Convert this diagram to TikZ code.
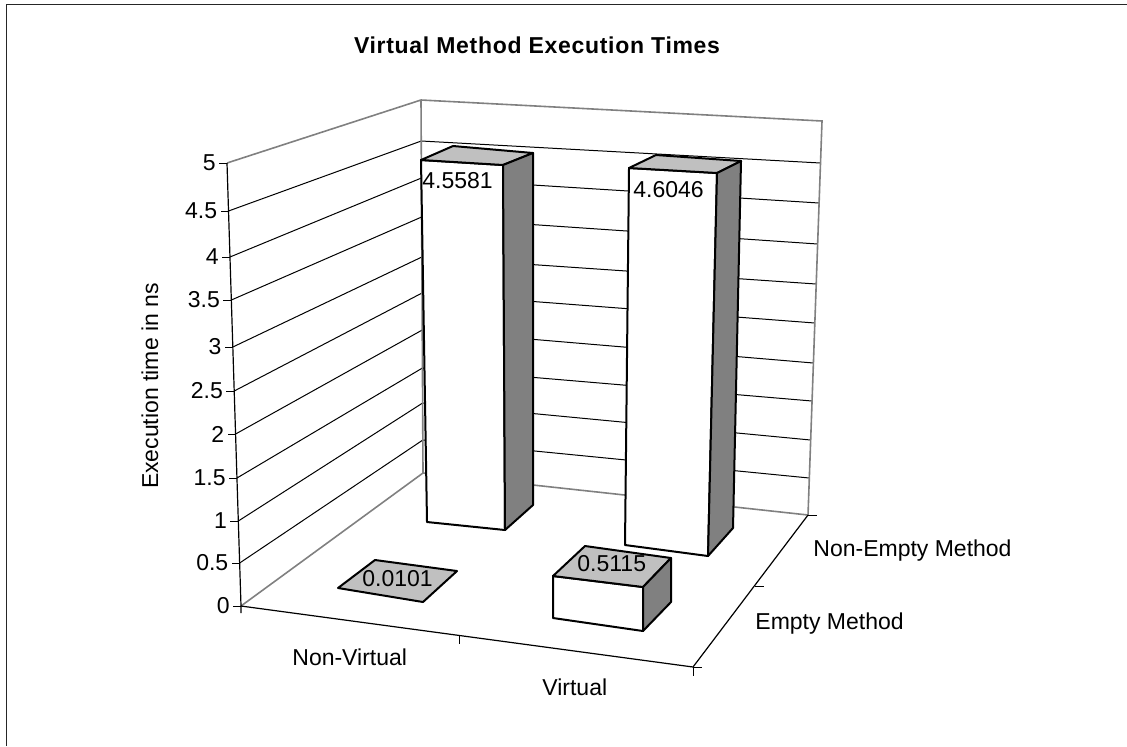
\documentclass[tikz,border=0pt]{standalone}
\usepackage{fontspec}
\setmainfont{Liberation Sans}
\definecolor{faceTop}{HTML}{C0C0C0}
\definecolor{faceSide}{HTML}{808080}
\definecolor{wallEdge}{HTML}{808080}
\begin{document}
\begin{tikzpicture}[x=0.5pt,y=-0.5pt,
  gridline/.style={black,line width=0.5pt},
  walledge/.style={wallEdge,line width=0.8pt},
  axisline/.style={black,line width=0.6pt},
  barfront/.style={draw=black,fill=white,line width=1pt,line join=round},
  bartop/.style={draw=black,fill=faceTop,line width=1pt,line join=round},
  barside/.style={draw=black,fill=faceSide,line width=1pt,line join=round},
  lbl/.style={inner sep=0pt,font=\fontsize{11.5pt}{13pt}\selectfont},
  ticklbl/.style={lbl,anchor=east},
  charttitle/.style={inner sep=0pt,font=\fontsize{11.5pt}{13pt}\selectfont\bfseries\addfontfeature{LetterSpace=3}}]
\useasboundingbox (0,0) rectangle (1127,746);

% outer frame (left and top edges)
\draw[black!85,line width=0.8pt] (6.5,746) -- (6.5,4.5) -- (1127,4.5);

% title
\node[charttitle] (title) at (537,45) {Virtual Method Execution Times};

% inner grid lines on the side wall and the back wall, with value ticks
\foreach \v/\fy/\by/\ry [count=\i] in {0.5/563/440/478, 1/521/403/440, 1.5/478/368/401,
    2/434/330/363, 2.5/391/293/323, 3/347/257/284, 3.5/300/217/244,
    4/257/178/203, 4.5/211/141/163}{
  \pgfmathsetmacro\fx{241-(606-\fy)*14/443}
  \pgfmathsetmacro\bx{423-(473-\by)*2/373}
  \pgfmathsetmacro\rx{808+(515-\ry)*14/394}
  \draw[gridline] (\fx,\fy) -- (\bx,\by) -- (\rx,\ry);
  \draw[gridline] (\fx,\fy) -- (\fx-8,\fy);
  \node[ticklbl] (tick\i) at (\fx-11,\fy) {\v};
}

% wall outlines
\draw[walledge] (227,163) -- (421,100) -- (822,121) -- (808,515) -- (423,473) -- (241,606);
\draw[walledge] (421,100) -- (423,473);

% value axis
\draw[axisline] (227,163) -- (241,606) -- (241,613);
\draw[gridline] (227,163) -- (219,163);
\draw[gridline] (241,606) -- (233,606);
\node[ticklbl] (tick0) at (230,606) {0};
\node[ticklbl] (tick10) at (216,163) {5};

% category axis and series axis
\draw[axisline] (241,606) -- (693,667) -- (808,515);
\draw[gridline] (459,635) -- (459,644);
\draw[gridline] (693,667) -- (693,676);
\draw[gridline] (693,667) -- (702,667);
\draw[gridline] (755,586) -- (764,586);
\draw[gridline] (808,515) -- (817,515);

% axis titles and category labels
\node[lbl,rotate=90] (ytitle) at (150,386) {Execution time in ns};
\node[lbl,anchor=base west] (catA) at (292,665) {Non-Virtual};
\node[lbl,anchor=base west] (catB) at (542,695) {Virtual};
\node[lbl,anchor=base west] (serA) at (755,629) {Empty Method};
\node[lbl,anchor=base west] (serB) at (813,556) {Non-Empty Method};

% back row: non-empty method
\filldraw[barfront] (421,160) -- (503,165) -- (505,530) -- (427,522) -- cycle;
\filldraw[bartop]   (421,160) -- (453,146) -- (533,153) -- (503,165) -- cycle;
\filldraw[barside]  (503,165) -- (533,153) -- (533,505) -- (505,530) -- cycle;
\node[lbl,anchor=base west] (valA) at (422,188) {4.5581};

\filldraw[barfront] (629,168) -- (717,173) -- (708,556) -- (625,545) -- cycle;
\filldraw[bartop]   (629,168) -- (656,155) -- (741,161) -- (717,173) -- cycle;
\filldraw[barside]  (717,173) -- (741,161) -- (733,528) -- (708,556) -- cycle;
\node[lbl,anchor=base west] (valB) at (633,197) {4.6046};

% front row: empty method
\filldraw[bartop] (338,588) -- (375,560) -- (457,571) -- (423,602) -- cycle;
\node[lbl,anchor=base west] (valC) at (362,586) {0.0101};

\filldraw[barfront] (553,576) -- (643,587) -- (643,631) -- (553,618) -- cycle;
\filldraw[bartop]   (553,576) -- (585,546) -- (671,558) -- (643,587) -- cycle;
\filldraw[barside]  (643,587) -- (671,558) -- (671,602) -- (643,631) -- cycle;
\node[lbl,anchor=base west] (valD) at (577,571) {0.5115};
\end{tikzpicture}
\end{document}
